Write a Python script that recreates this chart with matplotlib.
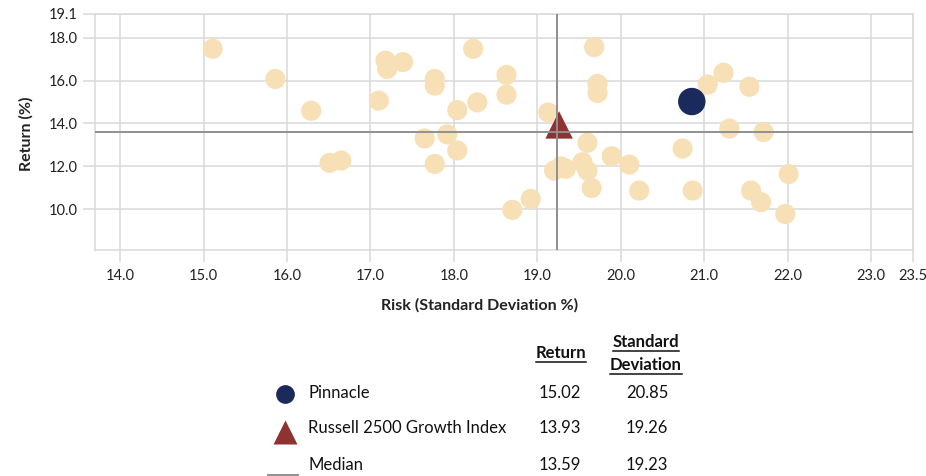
import matplotlib
matplotlib.use("Agg")
import matplotlib.pyplot as plt

plt.rcParams['font.family'] = ['Lato', 'DejaVu Sans']

# peer universe (risk %, return %)
peer_risk = [15.11, 15.86, 16.29, 16.51, 16.65, 17.18, 17.20, 17.39, 17.10, 17.77,
             17.77, 18.23, 17.65, 17.92, 18.04, 18.28, 18.04, 17.77, 18.63, 18.63,
             19.13, 19.68, 19.72, 19.72, 19.60, 19.89, 19.20, 19.28, 19.34, 19.54,
             19.60, 19.65, 18.92, 18.70, 20.10, 20.22, 20.74, 20.86, 21.04, 21.23,
             21.54, 21.30, 21.71, 22.01, 21.56, 21.68, 21.97]
peer_return = [17.48, 16.07, 14.59, 12.16, 12.27, 16.93, 16.54, 16.86, 15.06, 16.07,
               15.76, 17.48, 13.30, 13.49, 14.62, 14.98, 12.74, 12.11, 16.26, 15.34,
               14.51, 17.56, 15.84, 15.42, 13.10, 12.47, 11.80, 12.00, 11.89, 12.19,
               11.80, 10.99, 10.48, 9.97, 12.08, 10.87, 12.83, 10.87, 15.81, 16.36,
               15.71, 13.76, 13.60, 11.64, 10.87, 10.33, 9.78]

series_names = ["Pinnacle", "Russell 2500 Growth Index", "Median"]
series_return = [15.02, 13.93, 13.59]
series_risk = [20.85, 19.26, 19.23]

x_ticks = [14.0, 15.0, 16.0, 17.0, 18.0, 19.0, 20.0, 21.0, 22.0, 23.0, 23.5]
y_ticks = [10.0, 12.0, 14.0, 16.0, 18.0, 19.1]

peer_color = "#F7DFB6"
navy = "#1A2A5C"
red = "#8E3232"
median_color = "#8F8F8F"
grid_color = "#D9D9D9"

fig = plt.figure(figsize=(9.26, 4.76), dpi=100)
ax = fig.add_axes([95 / 926, 1 - 250 / 476, 818 / 926, 236 / 476])

ax.scatter(peer_risk, peer_return, s=210, color=peer_color, edgecolors="none", zorder=3)
ax.scatter(series_risk[0], series_return[0], s=390, color=navy, edgecolors="none", zorder=4)
ax.scatter(series_risk[1], series_return[1], s=390, marker="^", color=red, edgecolors="none", zorder=4)
ax.axhline(series_return[2], color=median_color, lw=1.4, zorder=5)
ax.axvline(series_risk[2], color=median_color, lw=1.4, zorder=5)

ax.set_xlim(13.7, 23.5)
ax.set_ylim(8.1, 19.1)
ax.set_xticks(x_ticks)
ax.set_xticklabels(["%.1f" % v for v in x_ticks])
ax.set_yticks(y_ticks)
ax.set_yticklabels(["%.1f" % v for v in y_ticks])
ax.grid(True, color=grid_color, lw=1.1, zorder=0)
ax.set_axisbelow(True)
for sp in ax.spines.values():
    sp.set_color(grid_color)
    sp.set_linewidth(1.1)
ax.tick_params(axis="both", colors=grid_color, length=8.5, width=1.1, labelsize=10.5,
               labelcolor="#222222")
ax.tick_params(axis="x", pad=5)
ax.tick_params(axis="y", pad=4)

fig.text(26 / 926, 1 - 134 / 476, "Return (%)", rotation=90, ha="center", va="center",
         fontsize=11.5, fontweight="bold", color="#222222")
fig.text(480 / 926, 1 - 305 / 476, "Risk (Standard Deviation %)", ha="center", va="center",
         fontsize=11.5, fontweight="bold", color="#222222")

# summary table below the chart, in pixel coordinates
lg = fig.add_axes([0, 0, 1, 1])
lg.set_xlim(0, 926)
lg.set_ylim(476, 0)
lg.axis("off")
lg.patch.set_alpha(0)

hdr = dict(ha="center", va="center", fontsize=12, fontweight="bold", color="#111111")
headers = [lg.text(561, 353, "Return", **hdr),
           lg.text(646, 342, "Standard", **hdr),
           lg.text(646, 365, "Deviation", **hdr)]

row_y = [393, 428, 465]
for name, ret, risk, yy in zip(series_names, series_return, series_risk, row_y):
    lg.text(308, yy, name, ha="left", va="center", fontsize=12, color="#111111")
    lg.text(560, yy, "%.2f" % ret, ha="center", va="center", fontsize=12, color="#111111")
    lg.text(647, yy, "%.2f" % risk, ha="center", va="center", fontsize=12, color="#111111")

lg.plot([285], [394], marker="o", ms=13.5, color=navy, mec="none")
lg.plot([285], [432], marker="^", ms=17, color=red, mec="none")
lg.plot([268, 298], [475, 475], color=median_color, lw=1.4)

fig.canvas.draw()
inv = lg.transData.inverted()
for t in headers:
    bb = t.get_window_extent()
    (x0, y0), (x1, y1) = inv.transform([(bb.x0, bb.y0), (bb.x1, bb.y1)])
    lg.plot([x0, x1], [y0 + 1, y0 + 1], color="#111111", lw=1.1)

fig.savefig("out.png", dpi=100)
